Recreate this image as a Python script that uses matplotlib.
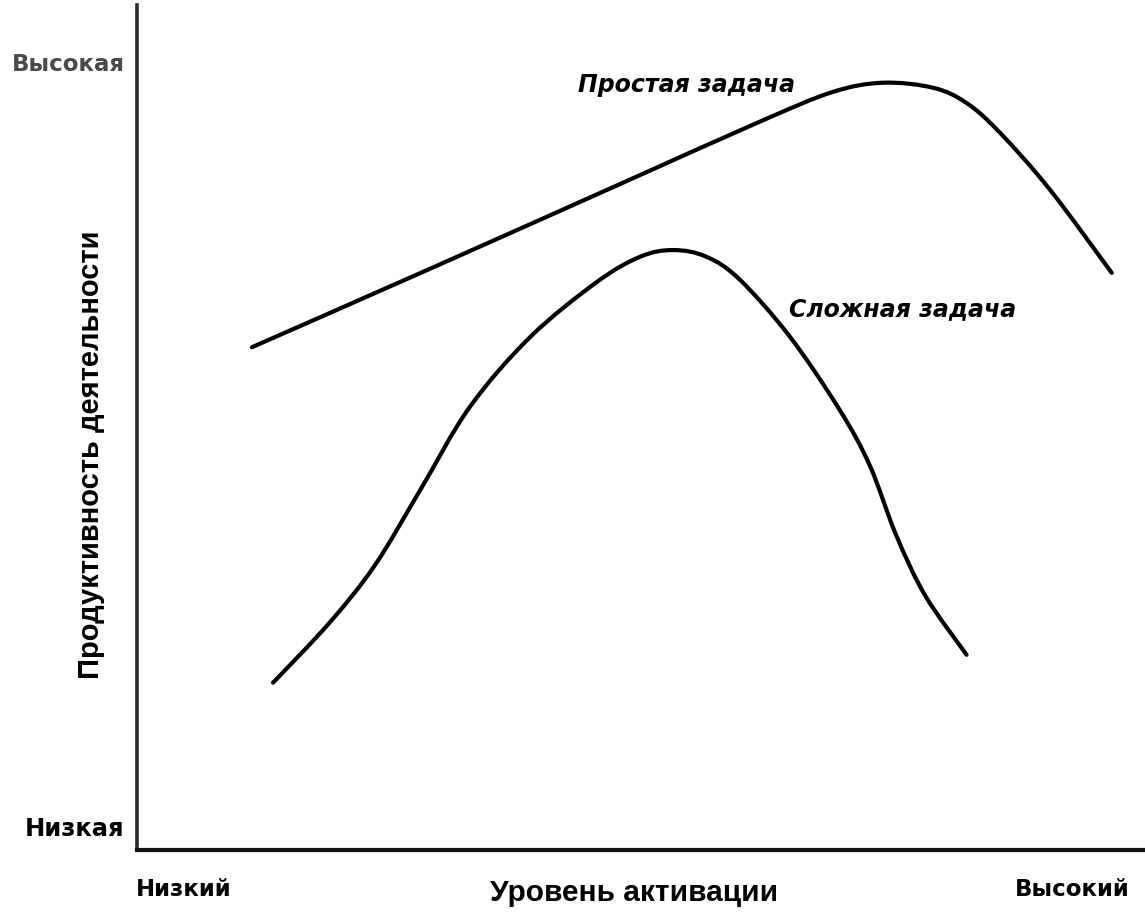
import matplotlib
matplotlib.use("Agg")
import matplotlib.pyplot as plt
from matplotlib.path import Path
from matplotlib.patches import PathPatch

# Activation level (0..100) and performance (0..100)
simple_x = [11.4, 29.1, 47.9, 61.8, 69.0, 74.0, 79.0, 82.3, 85.6, 90.6, 96.7]
simple_y = [59.5, 68.8, 78.8, 86.2, 89.7, 90.8, 90.2, 88.4, 84.9, 78.1, 68.3]

complex_x = [13.5, 19.1, 23.6, 28.1, 33.0, 39.0, 45.6, 49.9, 53.2, 56.5, 59.8, 64.8,
             69.7, 72.7, 75.3, 78.2, 82.3]
complex_y = [19.8, 26.9, 33.7, 42.6, 52.4, 60.7, 67.2, 70.2, 71.0, 70.2, 67.5, 60.7,
             52.1, 45.5, 37.3, 30.1, 23.1]

series_labels = ["Простая задача", "Сложная задача"]
x_ticks = [4.6, 92.8]
x_tick_labels = ["Низкий", "Высокий"]
y_ticks = [2.8, 93.2]
y_tick_labels = ["Низкая", "Высокая"]
x_title = "Уровень активации"
y_title = "Продуктивность деятельности"


def smooth_path(xs, ys):
    """Cubic Bezier path passing through the read points (Catmull-Rom tangents)."""
    pts = list(zip(xs, ys))
    n = len(pts)
    verts = [pts[0]]
    codes = [Path.MOVETO]
    for i in range(n - 1):
        p0 = pts[i - 1] if i > 0 else pts[i]
        p1 = pts[i]
        p2 = pts[i + 1]
        p3 = pts[i + 2] if i + 2 < n else pts[i + 1]
        c1 = (p1[0] + (p2[0] - p0[0]) / 6, p1[1] + (p2[1] - p0[1]) / 6)
        c2 = (p2[0] - (p3[0] - p1[0]) / 6, p2[1] - (p3[1] - p1[1]) / 6)
        verts += [c1, c2, p2]
        codes += [Path.CURVE4, Path.CURVE4, Path.CURVE4]
    return Path(verts, codes)


W, H = 1145, 916
fig = plt.figure(figsize=(W / 100, H / 100), dpi=100)
ax = fig.add_axes([137 / W, (H - 850) / H, (W - 137) / W, 845 / H])
ax.set_xlim(0, 100)
ax.set_ylim(0, 100)

for xs, ys in [(simple_x, simple_y), (complex_x, complex_y)]:
    ax.add_patch(PathPatch(smooth_path(xs, ys), facecolor="none", edgecolor="black",
                           lw=3.0, capstyle="round", joinstyle="round"))

ax.spines["top"].set_visible(False)
ax.spines["right"].set_visible(False)
ax.spines["left"].set_linewidth(2.6)
ax.spines["left"].set_color("#2a2a2a")
ax.spines["bottom"].set_linewidth(3.0)
ax.spines["bottom"].set_color("#111111")

tick_font = ["DejaVu Sans"]
ax.set_xticks(x_ticks)
ax.set_xticklabels(x_tick_labels, family=tick_font, fontweight="bold", fontsize=16.5)
ax.set_yticks(y_ticks)
ax.set_yticklabels(y_tick_labels, family=tick_font, fontweight="bold", fontsize=16.5)
ylabels = ax.get_yticklabels()
ylabels[0].set_fontsize(17.5)
ylabels[1].set_color("#4a4a4a")
ax.tick_params(axis="x", length=0, pad=20)
ax.tick_params(axis="y", length=0, pad=9)

label_font = ["Liberation Sans", "DejaVu Sans"]
ax.set_xlabel(x_title, family=label_font, fontsize=21.5, fontweight="bold")
ax.xaxis.set_label_coords((634 - 137) / 1008, (850 - 893) / 845)
ax.xaxis.label.set_va("center")
ax.set_ylabel(y_title, family=label_font, fontsize=21, fontweight="bold")
ax.yaxis.set_label_coords((91 - 137) / 1008, (850 - 455) / 845)
ax.yaxis.label.set_va("center")

ax.text(54.5, 90.5, series_labels[0], style="italic", fontsize=17, fontweight="bold",
        ha="center", va="center", family="DejaVu Sans")
ax.text(76.0, 64.0, series_labels[1], style="italic", fontsize=17, fontweight="bold",
        ha="center", va="center", family="DejaVu Sans")

fig.savefig("out.png", dpi=100)
